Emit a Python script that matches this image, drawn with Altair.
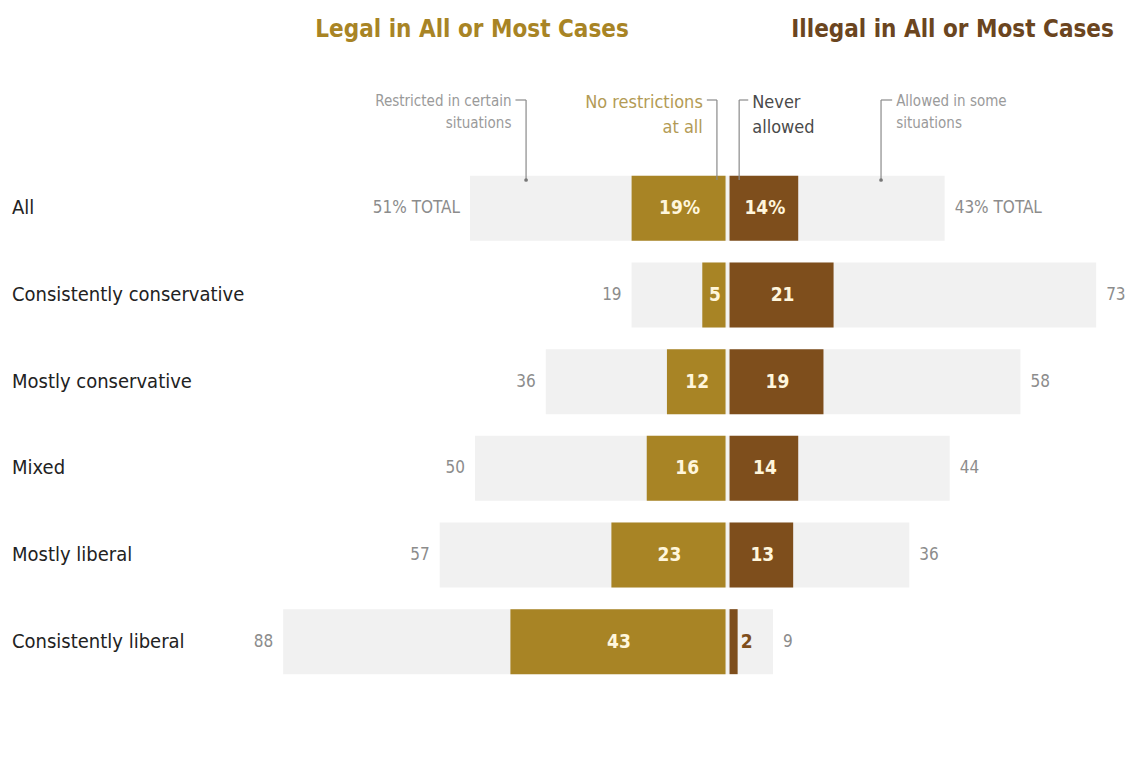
import altair as alt
import pandas as pd

# ---- data ----
groups = ["All", "Consistently conservative", "Mostly conservative",
          "Mixed", "Mostly liberal", "Consistently liberal"]
legal_total = [51, 19, 36, 50, 57, 88]
no_restrictions = [19, 5, 12, 16, 23, 43]
never_allowed = [14, 21, 19, 14, 13, 2]
illegal_total = [43, 73, 58, 44, 36, 9]

legal_labels = ["51% TOTAL", "19", "36", "50", "57", "88"]
illegal_labels = ["43% TOTAL", "73", "58", "44", "36", "9"]
norestr_labels = ["19%", "5", "12", "16", "23", "43"]
never_labels = ["14%", "21", "19", "14", "13", "2"]

# annotation callouts (x in data units)
ann_text = ["Restricted in certain\nsituations", "No restrictions\nat all",
            "Never\nallowed", "Allowed in some\nsituations"]
ann_line_x = [-39.9, -2.1, 2.3, 30.4]
ann_tick_x = [-42.0, -4.1, 4.1, 32.6]
ann_align = ["right", "right", "left", "left"]

GOLD = "#A88425"
BROWN = "#7E4E1C"
GRAY_BG = "#F1F1F1"
GRAY_TXT = "#8C8C8C"
CREAM = "#FFF6DC"
FONT = "Liberation Sans Narrow, DejaVu Sans Condensed, Roboto, sans-serif"

df = pd.DataFrame({
    "group": groups,
    "legal_neg": [-v for v in legal_total],
    "norestr_neg": [-v for v in no_restrictions],
    "never": never_allowed,
    "illegal": illegal_total,
    "legal_lbl": legal_labels,
    "illegal_lbl": illegal_labels,
    "norestr_lbl": norestr_labels,
    "never_lbl": never_labels,
    "zero": [0] * len(groups),
})
df["norestr_mid"] = df["norestr_neg"] / 2
df["never_mid"] = df["never"] / 2
df["never_big"] = df["never"] >= 4

ann = pd.DataFrame({"text": ann_text, "lx": ann_line_x, "tx": ann_tick_x,
                    "align": ann_align})

W, H = 1125, 750
xs = alt.Scale(domain=[-142.5, 80.3], nice=False, zero=False)
ys = alt.Scale(domain=groups, range=[157, 677], paddingInner=0.25,
               paddingOuter=0.125)
X = lambda f: alt.X(f, type="quantitative", scale=xs, axis=None)
Y = alt.Y("group:N", scale=ys, axis=None, sort=groups)

base = alt.Chart(df)

gray_left = base.mark_bar(color=GRAY_BG).encode(x=X("legal_neg"), x2="zero", y=Y)
gray_right = base.mark_bar(color=GRAY_BG).encode(x=X("zero"), x2="illegal", y=Y)
gold = base.mark_bar(color=GOLD, x2Offset=-2).encode(x=X("norestr_neg"), x2="zero", y=Y)
brown = base.mark_bar(color=BROWN, xOffset=2).encode(x=X("zero"), x2="never", y=Y)

row_lbl = base.mark_text(align="left", font=FONT, fontSize=20, color="#222222").encode(
    x=alt.value(4), y=Y, text="group:N")
left_lbl = base.mark_text(align="right", dx=-10, font=FONT, fontSize=17, color=GRAY_TXT).encode(
    x=X("legal_neg"), y=Y, text="legal_lbl:N")
right_lbl = base.mark_text(align="left", dx=10, font=FONT, fontSize=17, color=GRAY_TXT).encode(
    x=X("illegal"), y=Y, text="illegal_lbl:N")
gold_lbl = base.mark_text(align="center", font=FONT, fontSize=19, fontWeight="bold",
                          color=CREAM).encode(x=X("norestr_mid"), y=Y, text="norestr_lbl:N")
brown_lbl = base.transform_filter("datum.never_big").mark_text(
    align="center", dx=2, font=FONT, fontSize=19, fontWeight="bold", color=CREAM).encode(
    x=X("never_mid"), y=Y, text="never_lbl:N")
brown_small = base.transform_filter("!datum.never_big").mark_text(
    align="left", dx=3, font=FONT, fontSize=19, fontWeight="bold", color=BROWN).encode(
    x=X("never"), y=Y, text="never_lbl:N")

abase = alt.Chart(ann)
vlines = abase.mark_rule(color="#8a8a8a", strokeWidth=1.2).encode(
    x=X("lx"), y=alt.value(92), y2=alt.value(172))
ticks = abase.mark_rule(color="#8a8a8a", strokeWidth=1.2).encode(
    x=X("lx"), x2="tx", y=alt.value(92))
dots = abase.transform_filter("abs(datum.lx) > 10").mark_circle(
    color="#777777", size=14, opacity=1).encode(x=X("lx"), y=alt.value(172))

ann_colors = ["#9a9a9a", "#B39B55", "#4a4a4a", "#9a9a9a"]
ann_sizes = [15, 18, 18, 15]
ann_layers = []
for i in range(4):
    ann_layers.append(
        abase.transform_filter(alt.datum.text == ann_text[i]).mark_text(
            align=ann_align[i], baseline="top", lineBreak="\n",
            lineHeight=25 if ann_sizes[i] == 18 else 22,
            dx=-4 if ann_align[i] == "right" else 4,
            font=FONT, fontSize=ann_sizes[i], color=ann_colors[i]).encode(
            x=X("tx"), y=alt.value(86), text="text:N"))

hdr_df = pd.DataFrame({"h": ["Legal in All or Most Cases", "Illegal in All or Most Cases"],
                       "hx": [-50.6, 76.5]})
hdr_left = alt.Chart(hdr_df).transform_filter("datum.hx < 0").mark_text(
    align="center", font=FONT, fontSize=24, fontWeight="bold", color=GOLD).encode(
    x=X("hx"), y=alt.value(22), text="h:N")
hdr_right = alt.Chart(hdr_df).transform_filter("datum.hx > 0").mark_text(
    align="right", font=FONT, fontSize=24, fontWeight="bold", color="#6B4520").encode(
    x=X("hx"), y=alt.value(22), text="h:N")

chart = alt.layer(
    gray_left, gray_right, gold, brown, vlines, ticks, dots,
    row_lbl, left_lbl, right_lbl, gold_lbl, brown_lbl, brown_small,
    *ann_layers, hdr_left, hdr_right
).properties(
    width=W, height=H, padding=0,
    autosize=alt.AutoSizeParams(type="none")
).configure_view(stroke=None)

chart.save("out.html", embed_options={"renderer": "svg", "actions": False})
